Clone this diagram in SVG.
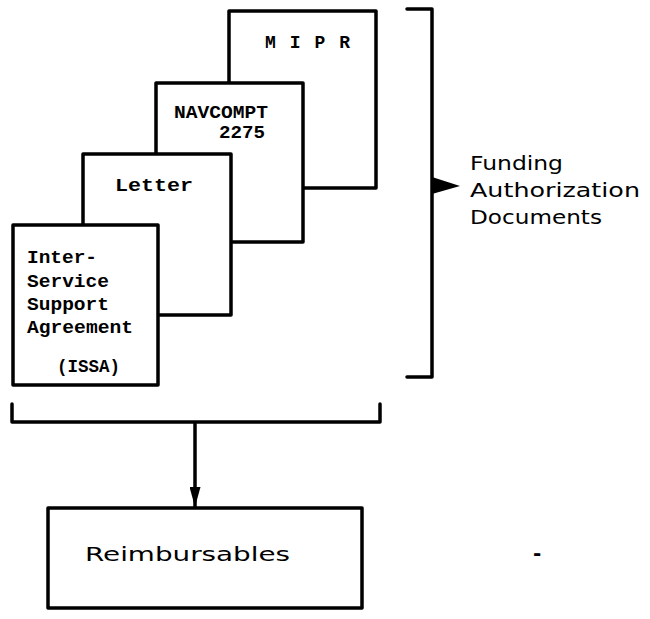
<svg xmlns="http://www.w3.org/2000/svg" width="650" height="619" viewBox="0 0 650 619">
<style>
.box{fill:#fff;stroke:#000;stroke-width:3.5;stroke-linejoin:round}
.mono{font-family:"Liberation Mono","DejaVu Sans Mono",monospace;font-weight:bold;font-size:18px;fill:#000}
.sans{font-family:"DejaVu Sans","Liberation Sans",sans-serif;font-size:20px;fill:#000}
.ln{fill:none;stroke:#000;stroke-width:3.5;stroke-linecap:round;stroke-linejoin:round}
</style>
<defs>
<marker id="ah" markerWidth="20" markerHeight="11" refX="20" refY="5.5" orient="auto" markerUnits="userSpaceOnUse" viewBox="0 0 20 11">
<path d="M0,0 L20,5.5 L0,11 Z" fill="#000"/>
</marker>
</defs>
<rect width="650" height="619" fill="#fff"/>
<g id="mipr">
<rect class="box" x="229" y="11" width="147" height="177"/>
<text class="mono" x="265" y="48" textLength="85" lengthAdjust="spacing">M I P R</text>
</g>
<g id="navcompt">
<rect class="box" x="156" y="83" width="147" height="159"/>
<text class="mono" x="174" y="118" font-size="17" textLength="94" lengthAdjust="spacingAndGlyphs">NAVCOMPT</text>
<text class="mono" x="219" y="138" font-size="17" textLength="46" lengthAdjust="spacingAndGlyphs">2275</text>
</g>
<g id="letter">
<rect class="box" x="83" y="154" width="148" height="161"/>
<text class="mono" x="115" y="191" textLength="78" lengthAdjust="spacingAndGlyphs">Letter</text>
</g>
<g id="issa">
<rect class="box" x="13" y="225" width="145" height="160"/>
<text class="mono" x="27" y="263" textLength="70" lengthAdjust="spacingAndGlyphs">Inter-</text>
<text class="mono" x="27" y="287" textLength="82" lengthAdjust="spacingAndGlyphs">Service</text>
<text class="mono" x="27" y="310" textLength="82" lengthAdjust="spacingAndGlyphs">Support</text>
<text class="mono" x="27" y="333" textLength="106" lengthAdjust="spacingAndGlyphs">Agreement</text>
<text class="mono" x="57" y="372" textLength="63" lengthAdjust="spacingAndGlyphs">(ISSA)</text>
</g>
<g id="funding">
<text class="sans" x="470" y="170" textLength="93" lengthAdjust="spacingAndGlyphs">Funding</text>
<text class="sans" x="470" y="197" textLength="170" lengthAdjust="spacingAndGlyphs">Authorization</text>
<text class="sans" x="470" y="224" textLength="132" lengthAdjust="spacingAndGlyphs">Documents</text>
</g>
<g id="reimbursables">
<rect class="box" x="48" y="508" width="314" height="100"/>
<text class="sans" x="85" y="561" font-size="22" textLength="205" lengthAdjust="spacingAndGlyphs">Reimbursables</text>
</g>
<g id="connectors">
<path class="ln" d="M407,9 L432,9 L432,377 L407,377"/>
<path d="M432,177 L460,186 L432,194 Z" fill="#000"/>
<path class="ln" d="M12,404 L12,422 L380,422 L380,404"/>
<line x1="195" y1="422" x2="195" y2="507" stroke="#000" stroke-width="3.5" marker-end="url(#ah)"/>
</g>
<text class="sans" x="533" y="560" font-size="20" font-weight="bold">-</text>
</svg>
